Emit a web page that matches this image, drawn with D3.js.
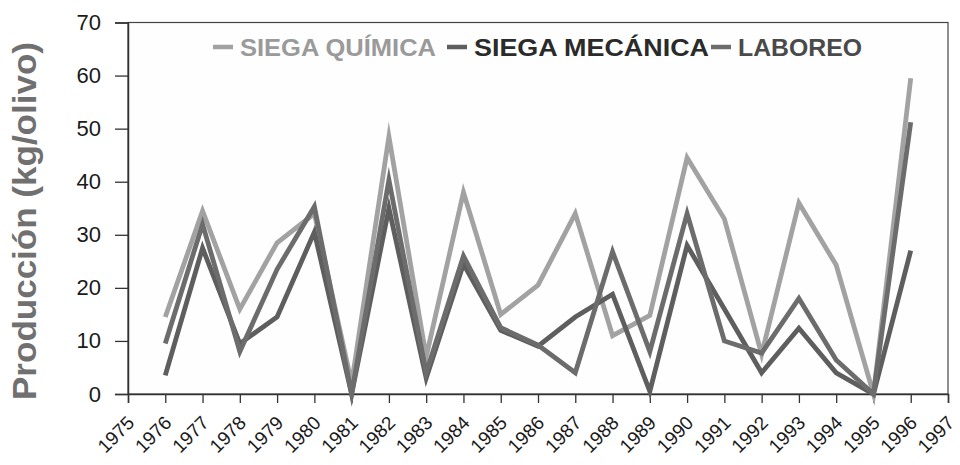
<!DOCTYPE html>
<html><head><meta charset="utf-8">
<script src="https://cdn.jsdelivr.net/npm/d3@7"></script>
<style>
html,body{margin:0;padding:0;background:#fff;}
svg{display:block;font-family:"Liberation Sans",Arial,Helvetica,sans-serif;}
</style></head>
<body><svg id="c" width="960" height="465"></svg>
<script>
const years = [1976,1977,1978,1979,1980,1981,1982,1983,1984,1985,1986,1987,1988,1989,1990,1991,1992,1993,1994,1995,1996];
const siegaQuimica = [14.5,34.5,16,28.5,34,2,48.5,7,38,15,20.5,34,11,14.8,44.5,33,7.5,36,24.3,0,59.5];
const siegaMecanica = [3.5,27.5,9.5,14.5,30.5,0,35,3,24.5,12,9,14.5,18.8,0.5,28,16,4,12.4,4,0,27];
const laboreo = [9.5,32,8,23.5,35.3,0,40.3,4,26,12.5,9.2,4,26.8,8,34,10,7.7,18,6.4,0,51.2];
const xTicks = d3.range(1975,1998);
const yTicks = [0,10,20,30,40,50,60,70];
const seriesNames = ["SIEGA QUÍMICA","SIEGA MECÁNICA","LABOREO"];
const seriesData = [siegaQuimica, siegaMecanica, laboreo];
const lineColors = ["#a2a2a2","#5e5e5e","#6c6c6c"];
const textColors = ["#9a9a9a","#2a2a2a","#4a4a4a"];

const svg = d3.select("#c");
const L=128, R=948, T=22.5, B=394;
const x = d3.scaleLinear().domain([1975,1997]).range([L,R]);
const y = d3.scaleLinear().domain([0,70]).range([B,T]);

// frame
svg.append("rect").attr("x",L).attr("y",T).attr("width",R-L).attr("height",B-T)
  .attr("fill","#fefefe").attr("stroke","#444").attr("stroke-width",1.2);

// y axis
const ya = svg.append("g").attr("transform",`translate(${L},0)`)
  .call(d3.axisLeft(y).tickValues(yTicks).tickSize(13).tickPadding(14).tickFormat(d3.format("d")));
ya.select(".domain").attr("stroke","#333").attr("stroke-width",1.5);
ya.selectAll(".tick line").attr("stroke","#333").attr("stroke-width",1.3);
ya.selectAll("text").attr("font-size",22).attr("fill","#1a1a1a").attr("font-family","Liberation Sans, Arial, sans-serif");

// x axis
const xa = svg.append("g").attr("transform",`translate(0,${B})`)
  .call(d3.axisBottom(x).tickValues(xTicks).tickSize(9).tickFormat(d3.format("d")));
xa.select(".domain").attr("stroke","#333").attr("stroke-width",1.5);
xa.selectAll(".tick line").attr("stroke","#333").attr("stroke-width",1.3);
xa.selectAll("text").attr("font-size",19).attr("fill","#1a1a1a")
  .attr("font-family","Liberation Sans, Arial, sans-serif")
  .attr("text-anchor","end").attr("dy",null).attr("y",0)
  .attr("transform","translate(7,30) rotate(-45)");

// lines
const line = d3.line().x((d,i)=>x(years[i])).y(d=>y(d));
seriesData.forEach((s,k)=>{
  svg.append("path").datum(s).attr("d",line).attr("fill","none")
    .attr("stroke",lineColors[k]).attr("stroke-width",4.8).attr("stroke-linejoin","miter").attr("stroke-miterlimit",10);
});
// legend
const lg = svg.append("g");
const legX = [213,447,711];
const legW = [196,235,124];
seriesNames.forEach((n,k)=>{
  lg.append("line").attr("x1",legX[k]).attr("x2",legX[k]+20).attr("y1",47).attr("y2",47)
    .attr("stroke",lineColors[k]).attr("stroke-width",4.5);
  lg.append("text").attr("x",legX[k]+27).attr("y",56).text(n)
    .attr("font-size",23).attr("font-weight","bold").attr("fill",textColors[k])
    .attr("textLength",legW[k]).attr("lengthAdjust","spacingAndGlyphs");
});

// y title
svg.append("text").attr("transform","translate(36,221) rotate(-90)")
  .attr("text-anchor","middle").attr("font-size",33).attr("font-weight","bold")
  .attr("fill","#707070").attr("textLength",358).attr("lengthAdjust","spacingAndGlyphs")
  .text("Producción (kg/olivo)");
</script></body></html>
